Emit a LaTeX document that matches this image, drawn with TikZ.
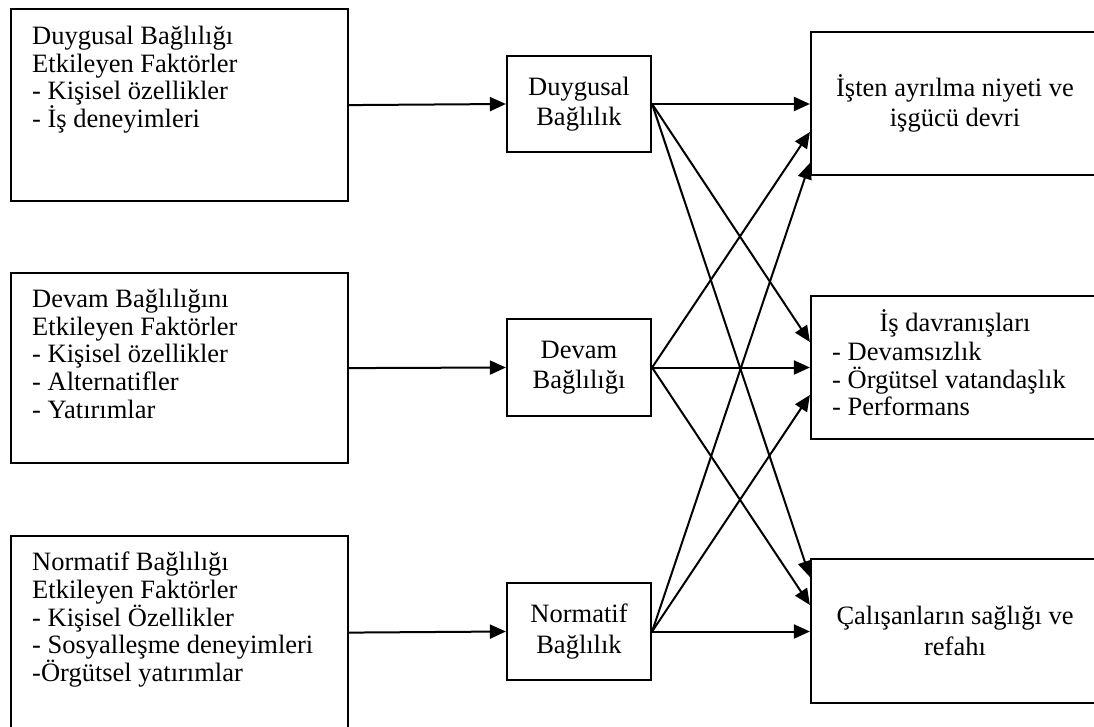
\documentclass[tikz,border=0pt]{standalone}
\usepackage{fontspec}
\setmainfont{Liberation Serif}
\usetikzlibrary{arrows.meta}
\begin{document}
\begin{tikzpicture}[x=1pt,y=-1pt,
  box/.style={draw, line width=2.2pt, inner sep=0pt, rectangle},
  txt/.style={inner sep=0pt, font=\fontsize{26.5}{27.7}\selectfont, align=left, anchor=north west},
  ctxt/.style={font=\fontsize{26.5}{30.5}\selectfont, align=center},
  arr/.style={line width=2pt, -{Triangle[length=16pt,width=14pt]}}]
\useasboundingbox (0,0) rectangle (1094,727);
% left boxes
\node[box, anchor=north west, minimum width=337pt, minimum height=192pt] (L1) at (10,8) {};
\node[box, anchor=north west, minimum width=337pt, minimum height=190pt] (L2) at (10,272) {};
\node[box, anchor=north west, minimum width=337pt, minimum height=193pt] (L3) at (10,535) {};
\node[txt] (t1) at (32,26) {Duygusal Bağlılığı\\Etkileyen Faktörler\\- Kişisel özellikler\\- İş deneyimleri};
\node[txt] (t2) at (32,289) {Devam Bağlılığını\\Etkileyen Faktörler\\- Kişisel özellikler\\- Alternatifler\\- Yatırımlar};
\node[txt] (t3) at (32,552) {Normatif Bağlılığı\\Etkileyen Faktörler\\- Kişisel Özellikler\\- Sosyalleşme deneyimleri\\-Örgütsel yatırımlar};
% middle boxes
\node[box, ctxt, minimum width=144pt, minimum height=96pt] (DB) at (579,104) {Duygusal\\Bağlılık};
\node[box, ctxt, minimum width=144pt, minimum height=97pt] (VB) at (579,367.5) {Devam\\Bağlılığı};
\node[box, ctxt, minimum width=144pt, minimum height=97pt] (NB) at (579,631.5) {Normatif\\Bağlılık};
% right boxes
\node[box, ctxt, minimum width=288pt, minimum height=143pt] (R1) at (955,103.5) {İşten ayrılma niyeti ve\\işgücü devri};
\node[box, minimum width=288pt, minimum height=143pt] (R2) at (955,367.5) {};
\node[ctxt, inner sep=0pt, anchor=base] (r2h) at (955,331) {İş davranışları};
\node[txt] (r2l) at (832,342) {\fontsize{26.5}{29.5}\selectfont - Devamsızlık\\- Örgütsel vatandaşlık\\- Performans};
\node[box, ctxt, minimum width=288pt, minimum height=144pt] (R3) at (955,631) {Çalışanların sağlığı ve\\refahı};
% target points
\coordinate (R1b) at ([yshift=-28.5pt]R1.west);
\coordinate (R1c) at ([yshift=-59.5pt]R1.west);
\coordinate (R2a) at ([yshift=25.5pt]R2.west);
\coordinate (R2c) at ([yshift=-27.5pt]R2.west);
\coordinate (R3a) at ([yshift=54pt]R3.west);
\coordinate (R3b) at ([yshift=26pt]R3.west);
% arrows
\draw[arr] (L1.east) -- (DB.west);
\draw[arr] (L2.east) -- (VB.west);
\draw[arr] (L3.east) -- (NB.west);
\draw[arr] (DB.east) -- (DB.east -| R1.west);
\draw[arr] (DB.east) -- (R2a);
\draw[arr] (DB.east) -- (R3a);
\draw[arr] (VB.east) -- (R1b);
\draw[arr] (VB.east) -- (VB.east -| R2.west);
\draw[arr] (VB.east) -- (R3b);
\draw[arr] (NB.east) -- (R1c);
\draw[arr] (NB.east) -- (R2c);
\draw[arr] (NB.east) -- (NB.east -| R3.west);
\end{tikzpicture}
\end{document}
